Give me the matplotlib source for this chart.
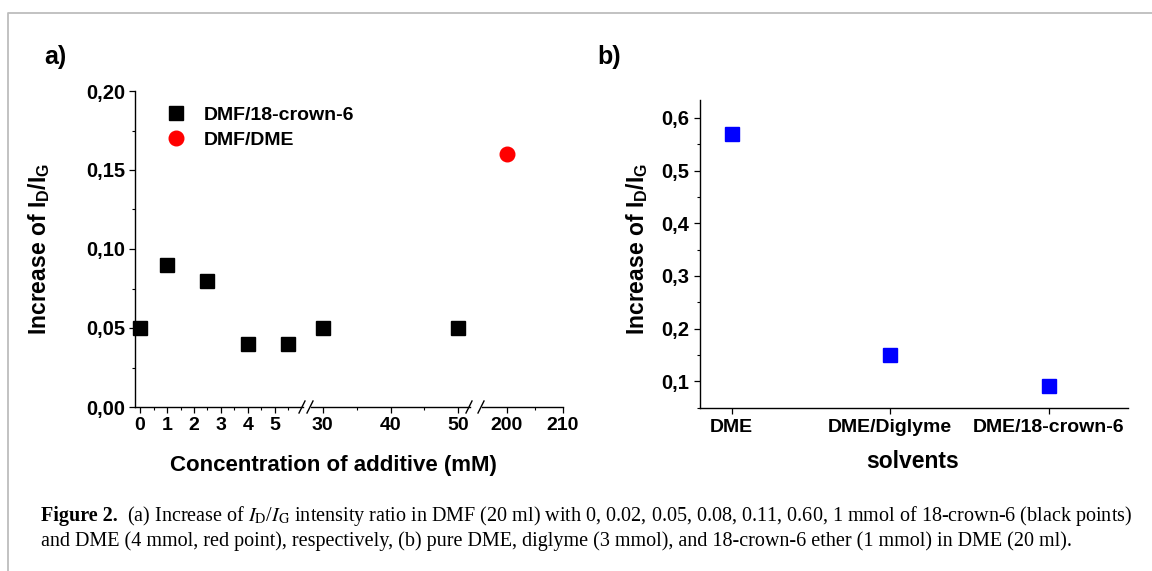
import matplotlib
matplotlib.use('Agg')
import matplotlib.pyplot as plt
import numpy as np
from matplotlib.lines import Line2D
from matplotlib.ticker import MultipleLocator, FixedLocator, FuncFormatter

plt.rcParams['font.family'] = ['Liberation Sans', 'DejaVu Sans']
plt.rcParams['mathtext.fontset'] = 'custom'
plt.rcParams['mathtext.rm'] = 'Liberation Sans:bold'
plt.rcParams['mathtext.it'] = 'Liberation Sans:bold'
plt.rcParams['mathtext.bf'] = 'Liberation Sans:bold'

# ---------------- data ----------------
conc_crown = [0, 1, 2.5, 4, 5.5, 30, 50]
ratio_crown = [0.05, 0.09, 0.08, 0.04, 0.04, 0.05, 0.05]
conc_dme = [200]
ratio_dme = [0.16]
solvents = ['DME', 'DME/Diglyme', 'DME/18-crown-6']
ratio_solvents = [0.57, 0.15, 0.09]
seg_major_ticks = [[0, 1, 2, 3, 4, 5], [30, 40, 50], [200, 210]]
seg_minor_ticks = [[0.5, 1.5, 2.5, 3.5, 4.5, 5.5], [35, 45], [205]]

W, H = 1152, 571
fig = plt.figure(figsize=(W / 100, H / 100), dpi=100)


def rect(l, r, t, b):
    return [l / W, 1 - b / H, (r - l) / W, (b - t) / H]


def fx(px):
    return px / W


def fy(py):
    return 1 - py / H


fmt2 = FuncFormatter(lambda v, p: f'{v:.2f}'.replace('.', ','))
fmt1 = FuncFormatter(lambda v, p: f'{v:.1f}'.replace('.', ','))

# ---------------- panel a: broken x axis ----------------
segs = [
    dict(px=(135, 303), xlim=(-0.19, 6.05)),
    dict(px=(311, 470), xlim=(28.27, 51.73)),
    dict(px=(482, 562.5), xlim=(195.5, 210)),
]
A_TOP, A_BOT = 91, 407
axes_a = []
for i, s in enumerate(segs):
    ax = fig.add_axes(rect(s['px'][0], s['px'][1], A_TOP, A_BOT))
    ax.set_xlim(*s['xlim'])
    ax.set_ylim(0, 0.20)
    ax.patch.set_alpha(0)
    for sp in ['top', 'right']:
        ax.spines[sp].set_visible(False)
    ax.spines['bottom'].set_linewidth(1.0)
    ax.spines['left'].set_linewidth(1.0)
    ax.xaxis.set_major_locator(FixedLocator(seg_major_ticks[i]))
    ax.xaxis.set_minor_locator(FixedLocator(seg_minor_ticks[i]))
    ax.tick_params(axis='x', which='major', direction='out', length=4, width=0.9,
                   labelsize=14, pad=3)
    ax.tick_params(axis='x', which='minor', direction='out', length=2.5, width=0.8)
    if i == 0:
        ax.yaxis.set_major_locator(MultipleLocator(0.05))
        ax.yaxis.set_minor_locator(MultipleLocator(0.025))
        ax.yaxis.set_major_formatter(fmt2)
        ax.tick_params(axis='y', which='major', direction='out', length=4, width=0.9,
                       labelsize=14.5, pad=3)
        ax.tick_params(axis='y', which='minor', direction='out', length=2.5, width=0.8)
    else:
        ax.spines['left'].set_visible(False)
        ax.tick_params(axis='y', which='both', left=False, labelleft=False)
    for lab in ax.get_xticklabels() + ax.get_yticklabels():
        lab.set_fontweight('bold')
    lo, hi = s['xlim']
    xc = np.array(conc_crown)
    yc = np.array(ratio_crown)
    m = (xc >= lo) & (xc <= hi)
    ax.plot(xc[m], yc[m], 's', color='black', markersize=9.5, clip_on=False)
    xd = np.array(conc_dme)
    yd = np.array(ratio_dme)
    m2 = (xd >= lo) & (xd <= hi)
    ax.plot(xd[m2], yd[m2], 'o', color='#ff0000', markersize=10.5, clip_on=False)
    axes_a.append(ax)

# legend (proxies with the plotted styles)
h1 = Line2D([], [], linestyle='none', marker='s', color='black', markersize=9.5)
h2 = Line2D([], [], linestyle='none', marker='o', color='#ff0000', markersize=10.5)
leg = axes_a[0].legend([h1, h2], ['DMF/18-crown-6', 'DMF/DME'], frameon=False,
                       loc='upper left', bbox_to_anchor=(fx(166), fy(106)),
                       bbox_transform=fig.transFigure, borderaxespad=0, borderpad=0,
                       handlelength=1.0, handletextpad=0.95, labelspacing=0.4,
                       prop=dict(family='Liberation Sans', weight='bold', size=14))

# break marks
for xa, xb in [(303, 311), (470, 482)]:
    for xm in (xa - 1, xb - 1):
        fig.add_artist(Line2D([fx(xm - 3), fx(xm + 3)], [fy(A_BOT + 6), fy(A_BOT - 6)],
                              color='black', lw=1.0, transform=fig.transFigure))

axes_a[0].set_ylabel('Increase of I$_\\mathrm{D}$/I$_\\mathrm{G}$', fontsize=16.5,
                     fontweight='bold', va='center')
axes_a[0].yaxis.set_label_coords(fx(39), fy(249), transform=fig.transFigure)
fig.text(fx(333), fy(465), 'Concentration of additive (mM)', fontsize=16,
         fontweight='bold', ha='center', va='center')
fig.text(fx(44), fy(57), 'a)', fontsize=18, fontweight='bold', ha='left', va='center')

# ---------------- panel b ----------------
axb = fig.add_axes(rect(700, 1128, 100, 407.5))
xpos = np.arange(len(solvents))
axb.plot(xpos, ratio_solvents, 's', color='#0000ff', markersize=9.5, clip_on=False)
axb.set_xlim(-0.2, 2.5)
axb.set_ylim(0.05, 0.634)
for sp in ['top', 'right']:
    axb.spines[sp].set_visible(False)
axb.spines['bottom'].set_linewidth(1.0)
axb.spines['left'].set_linewidth(1.0)
axb.set_xticks(xpos)
axb.set_xticklabels(solvents, fontweight='bold')
axb.yaxis.set_major_locator(MultipleLocator(0.1))
axb.yaxis.set_minor_locator(MultipleLocator(0.05))
axb.yaxis.set_major_formatter(fmt1)
axb.tick_params(axis='x', which='major', direction='out', length=4, width=0.9,
                labelsize=14, pad=4)
axb.tick_params(axis='y', which='major', direction='out', length=4, width=0.9,
                labelsize=14.5, pad=4)
axb.tick_params(axis='y', which='minor', direction='out', length=2.5, width=0.8)
for lab in axb.get_yticklabels():
    lab.set_fontweight('bold')
axb.set_ylabel('Increase of I$_\\mathrm{D}$/I$_\\mathrm{G}$', fontsize=16.5,
               fontweight='bold', va='center')
axb.yaxis.set_label_coords(fx(637), fy(249), transform=fig.transFigure)
axb.set_xlabel('solvents', fontsize=16.5, fontweight='bold', va='center')
axb.xaxis.set_label_coords(fx(913), fy(462), transform=fig.transFigure)
fig.text(fx(597), fy(57), 'b)', fontsize=18, fontweight='bold', ha='left', va='center')

# ---------------- frame lines ----------------
fig.add_artist(Line2D([fx(8), fx(8), 1.0], [0.0, fy(13), fy(13)], color='#bdbdbd',
                      lw=1.3, transform=fig.transFigure))

# ---------------- caption ----------------
cap_fam = ['Liberation Serif', 'DejaVu Serif']
line1 = ('(a) Increase of $I_{\\mathrm{D}}$/$I_{\\mathrm{G}}$ intensity ratio in DMF (20 ml) with 0, '
         '0.02, 0.05, 0.08, 0.11, 0.60, 1 mmol of 18-crown-6 (black points)')
line2 = ('and DME (4 mmol, red point), respectively, (b) pure DME, diglyme (3 mmol), '
         'and 18-crown-6 ether (1 mmol) in DME (20 ml).')
fs = 12.5
CAP_L = 41
t0 = fig.text(fx(CAP_L), fy(516), 'Figure 2.', family=cap_fam, fontweight='bold',
              fontsize=fs, ha='left', va='center')
t1 = fig.text(fx(125), fy(516), line1, family=cap_fam, fontweight='normal', fontsize=fs,
              ha='left', va='center', math_fontfamily='stix')
t2 = fig.text(fx(CAP_L), fy(541), line2, family=cap_fam, fontweight='normal', fontsize=fs,
              ha='left', va='center', math_fontfamily='stix')
fig.canvas.draw()
r = fig.canvas.get_renderer()
w0 = t0.get_window_extent(r).width
w1 = t1.get_window_extent(r).width
# fit the first line between the left margin and 1136 px, with a gap after "Figure 2."
gap = 9
scale = (1136 - CAP_L - gap) / (w0 + w1)
for t in (t0, t1, t2):
    t.set_fontsize(fs * scale)
fig.canvas.draw()
w0 = t0.get_window_extent(r).width
t1.set_x(fx(CAP_L + w0 + gap))

fig.savefig('out.png', dpi=100)
